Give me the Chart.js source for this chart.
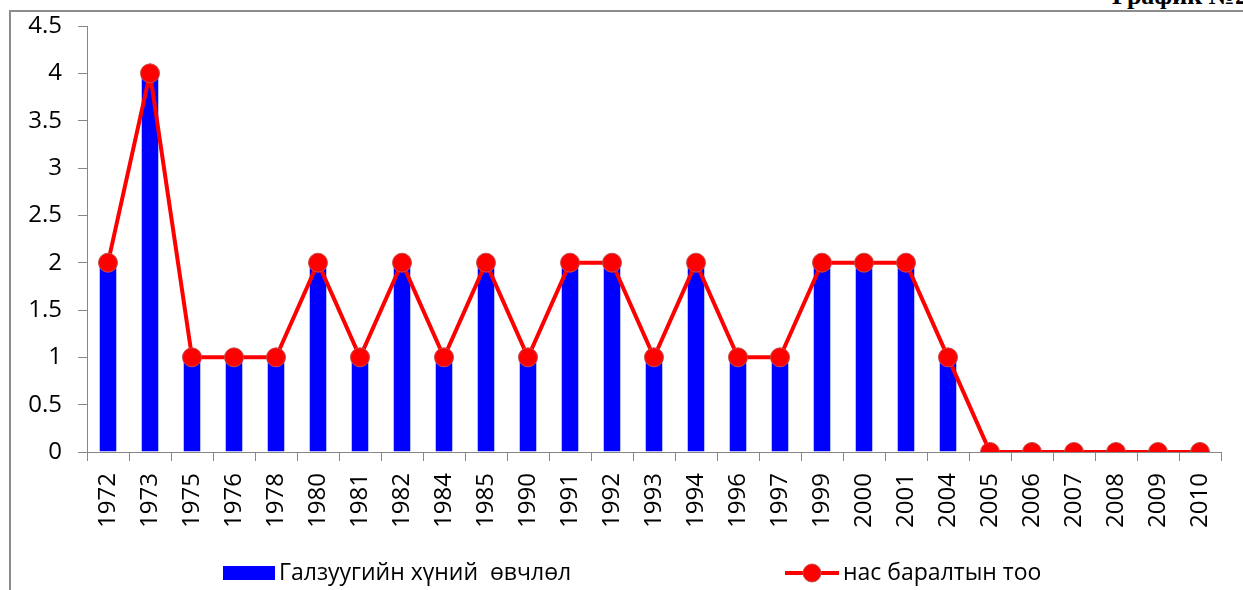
<!DOCTYPE html>
<html>
<head>
<meta charset="utf-8">
<script src="https://cdn.jsdelivr.net/npm/chart.js@4/dist/chart.umd.min.js"></script>
<style>
  html, body { margin: 0; padding: 0; background: #fff; }
  #wrap { position: relative; width: 1243px; height: 590px; overflow: hidden; }
  #frame { position: absolute; left: 9px; top: 10px; width: 1240px; height: 590px;
           border-left: 2px solid #8c8c8c; border-top: 2px solid #8c8c8c; }
  #title { position: absolute; left: 1112px; top: 0; height: 10px; overflow: hidden;
           white-space: nowrap; }
  #title span { display: block; margin-top: -19px; font: bold 26px "Liberation Serif", serif; color: #000; }
  canvas { position: absolute; left: 0; top: 0; }
</style>
</head>
<body>
<div id="wrap">
  <div id="frame"></div>
  <div id="title"><span>График №2</span></div>
  <canvas id="chart" width="1243" height="590"></canvas>
</div>
<script>
// years with cases
const years = ['1972', '1973', '1975', '1976', '1978', '1980', '1981', '1982', '1984', '1985',
  '1990', '1991', '1992', '1993', '1994', '1996', '1997', '1999', '2000', '2001',
  '2004', '2005', '2006', '2007', '2008', '2009', '2010']
const cases = [2, 4, 1, 1, 1, 2, 1, 2, 1, 2, 1, 2, 2, 1, 2, 1, 1, 2, 2, 2, 1, 0, 0, 0, 0, 0, 0]
const deaths = [2, 4, 1, 1, 1, 2, 1, 2, 1, 2, 1, 2, 2, 1, 2, 1, 1, 2, 2, 2, 1, 0, 0, 0, 0, 0, 0]
const seriesNames = ['Галзуугийн хүний  өвчлөл', 'нас баралтын тоо']

const FONT = '"Open Sans", "Liberation Sans", sans-serif'
const axisGray = '#868686'

// legend at the bottom, drawn by hand
const bottomLegend = {
  id: 'bottomLegend',
  afterDraw(chart) {
    const ctx = chart.ctx
    ctx.save()
    ctx.font = '23px ' + FONT
    ctx.textBaseline = 'middle'
    const y = 573
    // bar item
    ctx.fillStyle = '#0000ff'
    ctx.fillRect(223, 566, 52, 14)
    ctx.fillStyle = '#000'
    ctx.fillText(seriesNames[0], 279, y)
    // line item
    ctx.strokeStyle = '#ff0000'
    ctx.lineWidth = 4
    ctx.beginPath()
    ctx.moveTo(785, y)
    ctx.lineTo(839, y)
    ctx.stroke()
    ctx.beginPath()
    ctx.arc(812, y, 9, 0, Math.PI * 2)
    ctx.fillStyle = '#ff0000'
    ctx.fill()
    ctx.lineWidth = 1
    ctx.strokeStyle = '#c0504d'
    ctx.stroke()
    ctx.fillStyle = '#000'
    ctx.fillText(seriesNames[1], 843, y)
    ctx.restore()
  }
}

new Chart(document.getElementById('chart'), {
  type: 'bar',
  data: {
    labels: years,
    datasets: [
      {
        type: 'line',
        label: seriesNames[1],
        data: deaths,
        borderColor: '#ff0000',
        borderWidth: 4,
        backgroundColor: '#ff0000',
        pointRadius: 9.5,
        pointBorderColor: '#c0504d',
        pointBorderWidth: 1,
        pointBackgroundColor: '#ff0000',
        tension: 0,
        order: 0
      },
      {
        label: seriesNames[0],
        data: cases,
        backgroundColor: '#0000ff',
        borderColor: '#b8c4ff',
        borderWidth: { left: 1, right: 1, top: 0, bottom: 0 },
        categoryPercentage: 1,
        barPercentage: 0.43,
        order: 1
      }
    ]
  },
  options: {
    responsive: false,
    animation: false,
    devicePixelRatio: 1,
    layout: { padding: { top: 26, right: 22, left: 0, bottom: 0 } },
    plugins: {
      legend: { display: false },
      tooltip: { enabled: false }
    },
    scales: {
      x: {
        grid: { drawOnChartArea: false, color: axisGray, tickLength: 9, offset: true },
        border: { color: axisGray, width: 1 },
        ticks: {
          color: '#000', font: { family: FONT, size: 24 },
          maxRotation: 90, minRotation: 90, padding: 12, autoSkip: false
        },
        afterFit(scale) { scale.height = 138 }
      },
      y: {
        min: 0, max: 4.5,
        grid: { drawOnChartArea: false, color: axisGray, tickLength: 9 },
        border: { color: axisGray, width: 1 },
        ticks: {
          stepSize: 0.5, color: '#000', font: { family: FONT, size: 24 }, padding: 16,
          callback: v => String(v)
        },
        afterFit(scale) {
          scale.width = 87
          scale.paddingTop = 0
          scale.paddingBottom = 0
        }
      }
    }
  },
  plugins: [bottomLegend]
})
</script>
</body>
</html>
